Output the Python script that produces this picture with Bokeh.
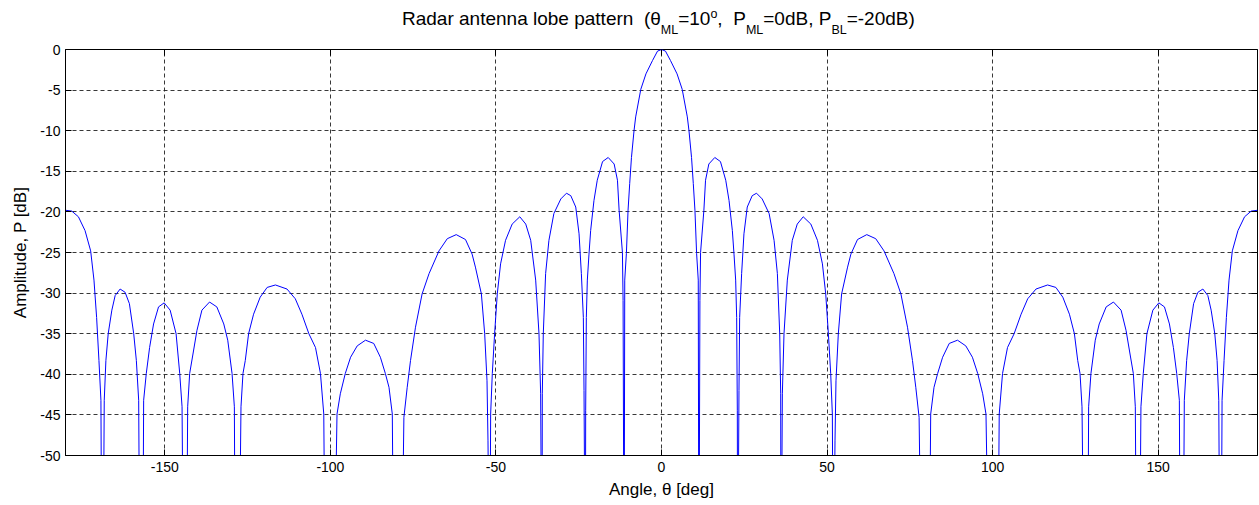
from bokeh.plotting import figure
from bokeh.models import Range1d, FixedTicker, LinearAxis, ColumnDataSource, Div
from bokeh.layouts import column
from bokeh.embed import file_html
from bokeh.resources import INLINE

# ---- data (angle in deg, amplitude in dB) ----
# values below the -50 dB floor (deep nulls) are written as -70
ANGLE_DEG = [
    -180, -178.1, -176.1, -174.1, -172.4, -171.4, -170.6, -169.9, -169.3, -169.0,
    -168.7, -168.3, -167.8, -167.1, -166.0, -165.0, -163.5, -162.0, -160.7, -159.4,
    -158.6, -157.9, -157.5, -156.7, -156.4, -155.6, -154.6, -153.4, -151.9, -150.2,
    -148.4, -146.6, -145.5, -144.8, -144.3, -143.5, -143.1, -142.5, -141.5, -140.3,
    -138.8, -136.5, -134.3, -132.2, -131.0, -129.7, -129.0, -128.7, -127.7, -127.0,
    -126.4, -125.7, -124.7, -123.2, -121.2, -119.1, -116.6, -113.1, -110.6, -108.6,
    -106.5, -104.5, -103.0, -102.0, -101.5, -99.0, -98.0, -97.0, -95.5, -93.9,
    -91.9, -89.4, -86.9, -84.9, -83.4, -82.3, -81.3, -80.8, -78.6, -77.8,
    -76.8, -75.8, -74.3, -72.3, -70.2, -67.2, -64.7, -62.0, -59.2, -57.2,
    -56.2, -54.4, -53.4, -52.7, -52.4, -51.9, -51.6, -51.1, -50.4, -49.6,
    -48.6, -47.1, -45.1, -42.8, -41.0, -39.5, -38.0, -37.0, -36.5, -36.1,
    -36.0, -35.7, -35.0, -34.0, -32.5, -30.4, -28.7, -27.4, -25.9, -24.9,
    -24.2, -23.6, -23.4, -23.0, -22.9, -22.7, -22.4, -21.9, -21.4, -20.4,
    -19.4, -17.8, -16.1, -14.3, -13.3, -12.8, -11.8, -11.6, -11.3, -11.1,
    -10.6, -10.1, -9.6, -9.07, -8.3, -7.8, -6.25, -4.7, -2.7, -1.2,
    0,
    1.2, 2.7, 4.7, 6.25, 7.8, 8.3, 9.07, 9.6, 10.1, 10.6,
    11.1, 11.3, 11.6, 11.8, 12.8, 13.3, 14.3, 16.1, 17.8, 19.4,
    20.4, 21.4, 21.9, 22.4, 22.7, 22.9, 23.0, 23.4, 23.6, 24.2,
    24.9, 25.9, 27.4, 28.7, 30.4, 32.5, 34.0, 35.0, 35.7, 36.0,
    36.1, 36.5, 37.0, 38.0, 39.5, 41.0, 42.8, 45.1, 47.1, 48.6,
    49.6, 50.4, 51.1, 51.6, 51.9, 52.4, 52.7, 53.4, 54.4, 56.2,
    57.2, 59.2, 62.0, 64.7, 67.2, 70.2, 72.3, 74.3, 75.8, 76.8,
    77.8, 78.6, 80.8, 81.3, 82.3, 83.4, 84.9, 86.9, 89.4, 91.9,
    93.9, 95.5, 97.0, 98.0, 99.0, 101.5, 102.0, 103.0, 104.5, 106.5,
    108.6, 110.6, 113.1, 116.6, 119.1, 121.2, 123.2, 124.7, 125.7, 126.4,
    127.0, 127.7, 128.7, 129.0, 129.7, 131.0, 132.2, 134.3, 136.5, 138.8,
    140.3, 141.5, 142.5, 143.1, 143.5, 144.3, 144.8, 145.5, 146.6, 148.4,
    150.2, 151.9, 153.4, 154.6, 155.6, 156.4, 156.7, 157.5, 157.9, 158.6,
    159.4, 160.7, 162.0, 163.5, 165.0, 166.0, 167.1, 167.8, 168.3, 168.7,
    169.0, 169.3, 169.9, 170.6, 171.4, 172.4, 174.1, 176.1, 178.1, 180,
]
AMPLITUDE_DB = [
    -19.8, -19.9, -20.6, -22.3, -24.8, -28.4, -33.0, -38.3, -43.2, -70,
    -70, -43.2, -38.3, -35.0, -32.1, -30.3, -29.5, -29.9, -31.3, -35.0,
    -38.3, -43.2, -70, -70, -43.2, -39.9, -36.7, -33.8, -31.7, -31.2,
    -32.1, -35.0, -39.9, -44.0, -70, -70, -44.0, -39.9, -37.5, -34.6,
    -32.1, -31.1, -31.7, -33.8, -35.8, -39.9, -44.0, -70, -70, -44.0,
    -39.9, -38.3, -35.0, -32.6, -30.5, -29.3, -29.0, -29.5, -30.7, -32.6,
    -35.0, -36.7, -39.9, -44.9, -70, -70, -44.9, -42.4, -39.9, -37.9,
    -36.5, -35.8, -36.2, -37.9, -39.9, -41.6, -44.9, -70, -70, -45.3,
    -41.6, -38.3, -34.2, -30.1, -27.6, -24.8, -23.3, -22.8, -23.4, -25.2,
    -26.8, -30.1, -35.0, -40.8, -48.2, -70, -44.9, -39.9, -35.0, -30.1,
    -26.4, -23.5, -21.5, -20.6, -21.5, -23.5, -28.4, -35.0, -42.4, -70,
    -42.4, -35.0, -27.6, -23.5, -20.2, -18.4, -17.7, -18.0, -19.4, -22.7,
    -27.6, -33.0, -42.0, -70, -44.5, -33.0, -28.4, -25.2, -22.3, -18.6,
    -16.1, -13.8, -13.3, -14.1, -16.1, -19.8, -25.0, -30.9, -70, -28.4,
    -25.1, -19.8, -16.5, -13.3, -10.0, -8.3, -4.9, -3.0, -1.35, -0.2,
    0.0,
    -0.2, -1.35, -3.0, -4.9, -8.3, -10.0, -13.3, -16.5, -19.8, -25.1,
    -28.4, -70, -30.9, -25.0, -19.8, -16.1, -14.1, -13.3, -13.8, -16.1,
    -18.6, -22.3, -25.2, -28.4, -33.0, -44.5, -70, -42.0, -33.0, -27.6,
    -22.7, -19.4, -18.0, -17.7, -18.4, -20.2, -23.5, -27.6, -35.0, -42.4,
    -70, -42.4, -35.0, -28.4, -23.5, -21.5, -20.6, -21.5, -23.5, -26.4,
    -30.1, -35.0, -39.9, -44.9, -70, -48.2, -40.8, -35.0, -30.1, -26.8,
    -25.2, -23.4, -22.8, -23.3, -24.8, -27.6, -30.1, -34.2, -38.3, -41.6,
    -45.3, -70, -70, -44.9, -41.6, -39.9, -37.9, -36.2, -35.8, -36.5,
    -37.9, -39.9, -42.4, -44.9, -70, -70, -44.9, -39.9, -36.7, -35.0,
    -32.6, -30.7, -29.5, -29.0, -29.3, -30.5, -32.6, -35.0, -38.3, -39.9,
    -44.0, -70, -70, -44.0, -39.9, -35.8, -33.8, -31.7, -31.1, -32.1,
    -34.6, -37.5, -39.9, -44.0, -70, -70, -44.0, -39.9, -35.0, -32.1,
    -31.2, -31.7, -33.8, -36.7, -39.9, -43.2, -70, -70, -43.2, -38.3,
    -35.0, -31.3, -29.9, -29.5, -30.3, -32.1, -35.0, -38.3, -43.2, -70,
    -70, -43.2, -38.3, -33.0, -28.4, -24.8, -22.3, -20.6, -19.9, -19.8,
]
X_TICKS = [-150, -100, -50, 0, 50, 100, 150]
Y_TICKS = [0, -5, -10, -15, -20, -25, -30, -35, -40, -45, -50]

FONT = "Liberation Sans"
TITLE_H = 40

# ---- title with subscripts / superscript (HTML text) ----
sub = '<span style="font-size:12.5px;position:relative;top:9px">%s</span>'
sup = '<span style="font-size:12.5px;position:relative;top:-7px">%s</span>'
title_html = ("Radar antenna lobe pattern  (θ" + sub % "ML" + "=10" + sup % "o" +
              ",  P" + sub % "ML" + "=0dB, P" + sub % "BL" + "=-20dB)")
title = Div(text=title_html, width=1259, height=TITLE_H,
            styles={"font-family": FONT, "font-size": "19px", "line-height": "22px",
                    "color": "black", "white-space": "pre", "padding-top": "8px",
                    "padding-left": "402px", "margin": "0", "box-sizing": "border-box"})

p = figure(width=1259, height=505 - TITLE_H, output_backend="svg", toolbar_location=None,
           x_range=Range1d(-180, 180), y_range=Range1d(-50, 0),
           min_border_left=65, min_border_right=2, min_border_top=49 - TITLE_H,
           min_border_bottom=50,
           background_fill_color="white", border_fill_color="white")
p.outline_line_color = "black"
p.outline_line_width = 1
p.outline_line_alpha = 1

src = ColumnDataSource(data=dict(x=ANGLE_DEG, y=AMPLITUDE_DB))
p.line("x", "y", source=src, line_color="#0000ff", line_width=1)

# axes
for ax, ticks in ((p.xaxis[0], X_TICKS), (p.yaxis[0], Y_TICKS)):
    ax.ticker = FixedTicker(ticks=ticks)
    ax.major_label_overrides = {t: str(t) for t in ticks}
    ax.major_tick_in = 6
    ax.major_tick_out = 0
    ax.minor_tick_line_color = None
    ax.axis_line_color = "black"
    ax.major_tick_line_color = "black"
    ax.major_label_text_font = FONT
    ax.major_label_text_font_size = "14px"
    ax.major_label_text_color = "black"
    ax.axis_label_text_font = FONT
    ax.axis_label_text_font_size = "17px"
    ax.axis_label_text_font_style = "normal"
    ax.axis_label_text_color = "black"

p.xaxis.major_label_standoff = 6
p.yaxis.major_label_standoff = 5
p.xaxis.axis_label = "Angle, θ [deg]"
p.yaxis.axis_label = "Amplitude, P [dB]"
p.xaxis.axis_label_standoff = 5
p.yaxis.axis_label_standoff = 7

# mirror ticks on top / right (MATLAB box), without labels
for loc, ticks in (("above", X_TICKS), ("right", Y_TICKS)):
    ax = LinearAxis(ticker=FixedTicker(ticks=ticks))
    ax.major_tick_in = 6
    ax.major_tick_out = 0
    ax.minor_tick_line_color = None
    ax.axis_line_color = None
    ax.major_tick_line_color = "black"
    ax.major_label_overrides = {t: "" for t in ticks}
    ax.major_label_text_color = None
    ax.major_label_text_font_size = "1px"
    ax.major_label_standoff = 0
    p.add_layout(ax, loc)

# grid
for g, ticks in ((p.xgrid[0], X_TICKS), (p.ygrid[0], Y_TICKS)):
    g.ticker = FixedTicker(ticks=ticks)
    g.grid_line_color = "#222222"
    g.grid_line_dash = "4 3"
    g.grid_line_width = 1
    g.grid_line_alpha = 0.9

layout = column(title, p, spacing=0)
open("out.html", "w").write(file_html(layout, INLINE))
